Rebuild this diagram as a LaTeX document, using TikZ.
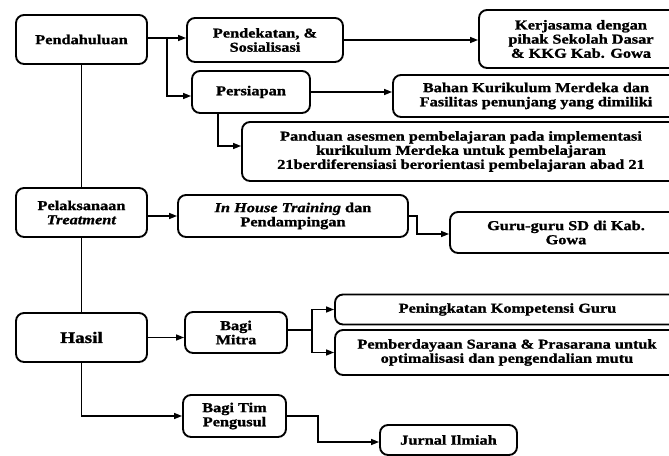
\documentclass[tikz,border=0pt]{standalone}
\usepackage{fontspec}
\setmainfont{Liberation Serif}[FakeStretch=1.2,
    BoldFeatures={FakeBold=1.2},BoldItalicFeatures={FakeBold=1.2}]
\usetikzlibrary{arrows.meta}

\begin{document}
\begin{tikzpicture}[x=0.75pt,y=-0.75pt]
\clip (0,0) rectangle (669,456);
\fill[white] (0,0) rectangle (669,456);

\begin{scope}[
    every node/.style={rectangle,draw=black,fill=white,rounded corners=6pt,
        line width=1.4pt,align=center,inner sep=0pt,
        font=\fontsize{10.2}{10.6}\selectfont\bfseries}]
    \node (pend) at (81.5, 39.5) [minimum width=98.25pt,minimum height=36.75pt] {Pendahuluan};

    \node (pdk) at (265, 40) [minimum width=117pt,minimum height=33pt] {Pendekatan, \&\\Sosialisasi};

    \node (kerja) at (581, 39) [minimum width=153pt,minimum height=43.5pt] {Kerjasama dengan\\pihak Sekolah Dasar\\\& KKG Kab. Gowa};

    \node (persiapan) at (251, 92) [minimum width=88.5pt,minimum height=31.5pt] {Persiapan};

    \node (bahan) at (536, 96) [minimum width=214.5pt,minimum height=31.5pt] {Bahan Kurikulum Merdeka dan\\Fasilitas penunjang yang dimiliki};

    \node (panduan) at (461, 151.5) [minimum width=328.5pt,minimum height=44.25pt] {Panduan asesmen pembelajaran pada implementasi\\kurikulum Merdeka untuk pembelajaran\\21berdiferensiasi berorientasi pembelajaran abad 21};

    \node (pelak) at (81.5, 212.5) [minimum width=98.25pt,minimum height=36.75pt] {Pelaksanaan\\\textit{Treatment}};

    \node (inhouse) at (293, 216) [minimum width=172.5pt,minimum height=31.5pt] {\textit{In House Training} dan\\Pendampingan};

    \node (guru) at (566, 232.5) [minimum width=174pt,minimum height=30.75pt] {Guru-guru SD di Kab.\\Gowa};

    \node (hasil) at (81.5, 337.5) [minimum width=98.25pt,minimum height=36.75pt,font=\fontsize{12}{13}\selectfont\bfseries] {Hasil};

    \node (mitra) at (236, 332.5) [minimum width=76.5pt,minimum height=30.75pt] {Bagi\\Mitra};

    \node (kompetensi) at (507.5, 309.5) [minimum width=258.75pt,minimum height=22.5pt] {Peningkatan Kompetensi Guru};

    \node (sarana) at (507, 352.5) [minimum width=258pt,minimum height=33.75pt] {Pemberdayaan Sarana \& Prasarana untuk\\optimalisasi dan pengendalian mutu};

    \node (tim) at (234.5, 416) [minimum width=77.25pt,minimum height=31.5pt] {Bagi Tim\\Pengusul};

    \node (jurnal) at (448.5, 440) [minimum width=102.75pt,minimum height=22.5pt] {Jurnal Ilmiah};
\end{scope}

% elbow points
\coordinate (k1) at (167, 38);
\coordinate (k2) at (167, 96);
\coordinate (k3) at (218, 146);
\coordinate (k5) at (417, 234);
\coordinate (k6) at (312, 330);
\coordinate (k7) at (318, 442);

\begin{scope}[>={Triangle[length=6pt,width=4.5pt]},
              every path/.style={draw=black,line width=1.1pt}]
    \path (pend) edge (pelak);
    \path (pelak) edge (hasil);

    \draw [line width=2.2pt] (pend.east |- k1) -- (k1);
    \draw [->] (k1) -- (k1 -| pdk.west);
    \draw [->] (k1) -- (k2) -- (k2 -| persiapan.west);
    \draw [->] (pdk.east) -- (pdk.east -| kerja.west);
    \draw [->] (persiapan.east) -- (persiapan.east -| bahan.west);
    \draw [->] (persiapan.south -| k3) -- (k3) -- (k3 -| panduan.west);

    \draw [->] (inhouse.west -| pelak.east) -- (inhouse.west);
    \draw [->] (inhouse.east) -- (inhouse.east -| k5) -- (k5) -- (k5 -| guru.west);

    \draw [->] (hasil.east) -- (hasil.east -| mitra.west);
    \draw [line width=2.2pt] (mitra.east |- k6) -- (k6);
    \draw [->] (k6) |- (kompetensi.west);
    \draw [->] (k6) |- (sarana.west);
    \draw [->] (hasil.south) |- (tim.west);
    \draw [->] (tim.east) -- (tim.east -| k7) -- (k7) -- (k7 -| jurnal.west);
\end{scope}
\end{tikzpicture}
\end{document}
